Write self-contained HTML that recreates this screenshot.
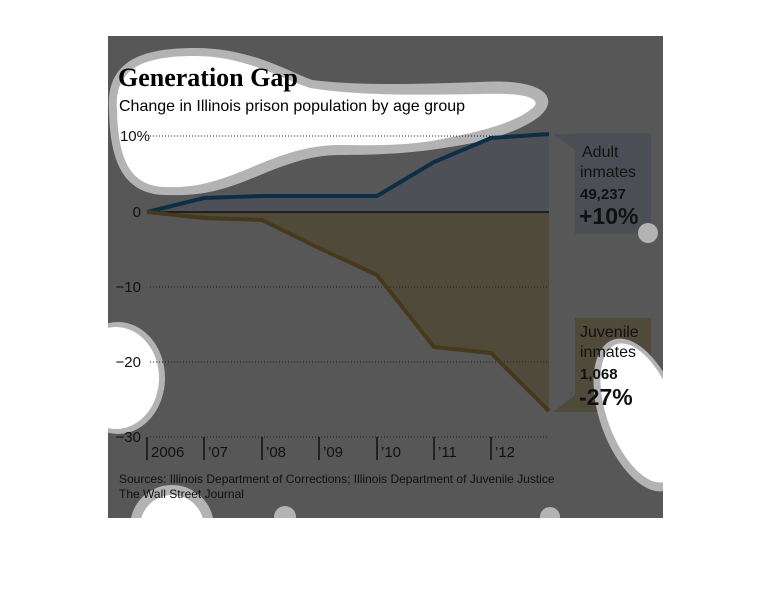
<!DOCTYPE html>
<html><head><style>body{margin:0;background:#fff}svg{display:block}</style></head><body>
<svg width="770" height="612" xmlns="http://www.w3.org/2000/svg" font-family="Liberation Sans, sans-serif">
<defs><clipPath id="c"><rect x="108" y="36" width="555" height="482"/></clipPath></defs>
<rect x="0" y="0" width="770" height="612" fill="#fff"/>
<rect x="108" y="36" width="555" height="482" fill="#575757"/>
<polygon points="147,212 204,198 262,196 319,196 377,196 434,162 491,138 549,134 549,212" fill="#4d5157"/>
<polygon points="147,212 204,218 262,220 319,248 377,275 434,347 491,353 549,411 549,212" fill="#4f4a3a"/>
<rect x="575" y="133" width="76" height="101" fill="#4b4f55"/>
<polygon points="553,134 575,134 575,150" fill="#4b4f55"/>
<rect x="575" y="318" width="76" height="94" fill="#4f4a3a"/>
<polygon points="553,412 575,395 575,412" fill="#4f4a3a"/>
<g clip-path="url(#c)">
<g fill="#b3b3b3">
<path d="M109,110 C106,64 136,48 195,48 C250,48 285,70 312,80 C360,86 420,84 480,82 C545,78 560,98 540,116 C520,132 485,142 450,147 C420,152 390,155 340,155 C305,155 278,168 248,180 C215,193 195,196 165,195 C118,194 110,152 109,110 Z"/>
<ellipse cx="118" cy="378" rx="47" ry="56"/>
<ellipse cx="640" cy="415" rx="40" ry="80" transform="rotate(-20 640 415)"/>
<circle cx="172" cy="527" r="42"/>
<circle cx="285" cy="517" r="11"/>
<circle cx="550" cy="517" r="10"/>
<circle cx="648" cy="233" r="10"/>
</g>
<g fill="#fff">
<path d="M117,110 C114,70 140,56 195,56 C245,56 280,78 310,88 C360,96 420,95 480,94 C530,92 545,100 530,110 C515,122 480,132 447,138 C420,144 390,146 340,145 C300,145 270,160 240,172 C210,184 190,188 165,187 C125,186 118,150 117,110 Z"/>
<ellipse cx="116" cy="378" rx="43" ry="51"/>
<ellipse cx="641" cy="413" rx="34" ry="73" transform="rotate(-20 641 413)"/>
<circle cx="172" cy="527" r="32"/>
</g>
</g>
<g stroke="#222" stroke-width="1" stroke-dasharray="1,2">
<line x1="150" y1="136" x2="549" y2="136"/>
<line x1="150" y1="287" x2="549" y2="287"/>
<line x1="150" y1="362" x2="549" y2="362"/>
<line x1="150" y1="437" x2="549" y2="437"/>
</g>
<line x1="147" y1="212" x2="549" y2="212" stroke="#111" stroke-width="1.5"/>
<polyline points="147,212 204,198 262,196 319,196 377,196 434,162 491,138 549,134" fill="none" stroke="#0d2f45" stroke-width="4"/>
<polyline points="147,212 204,218 262,220 319,248 377,275 434,347 491,353 549,411" fill="none" stroke="#47391b" stroke-width="4"/>
<text x="118" y="86" font-family="Liberation Serif, serif" font-weight="bold" font-size="26" fill="#000">Generation Gap</text>
<text x="119" y="111" font-size="16" fill="#000">Change in Illinois prison population by age group</text>
<g font-size="15" fill="#111" text-anchor="end">
<text x="150" y="141">10%</text>
<text x="141" y="217">0</text>
<text x="141" y="292">−10</text>
<text x="141" y="367">−20</text>
<text x="141" y="442">−30</text>
</g>
<g stroke="#111" stroke-width="1.5">
<line x1="147" y1="437" x2="147" y2="460"/><line x1="204" y1="437" x2="204" y2="460"/>
<line x1="262" y1="437" x2="262" y2="460"/><line x1="319" y1="437" x2="319" y2="460"/>
<line x1="377" y1="437" x2="377" y2="460"/><line x1="434" y1="437" x2="434" y2="460"/>
<line x1="491" y1="437" x2="491" y2="460"/>
</g>
<g font-size="15" fill="#111">
<text x="151" y="457">2006</text><text x="208" y="457">’07</text><text x="266" y="457">’08</text>
<text x="323" y="457">’09</text><text x="381" y="457">’10</text><text x="438" y="457">’11</text><text x="495" y="457">’12</text>
</g>
<text x="119" y="483" font-size="12" fill="#111">Sources: Illinois Department of Corrections; Illinois Department of Juvenile Justice</text>
<text x="119" y="498" font-size="12" fill="#111">The Wall Street Journal</text>
<g fill="#111">
<text x="582" y="157" font-size="16">Adult</text>
<text x="580" y="177" font-size="16">inmates</text>
<text x="580" y="199" font-size="15" font-weight="bold">49,237</text>
<text x="579" y="224" font-size="23" font-weight="bold">+10%</text>
<text x="580" y="337" font-size="16">Juvenile</text>
<text x="580" y="357" font-size="16">inmates</text>
<text x="580" y="379" font-size="15" font-weight="bold">1,068</text>
<text x="579" y="405" font-size="23" font-weight="bold">-27%</text>
</g>
</svg>
</body></html>
